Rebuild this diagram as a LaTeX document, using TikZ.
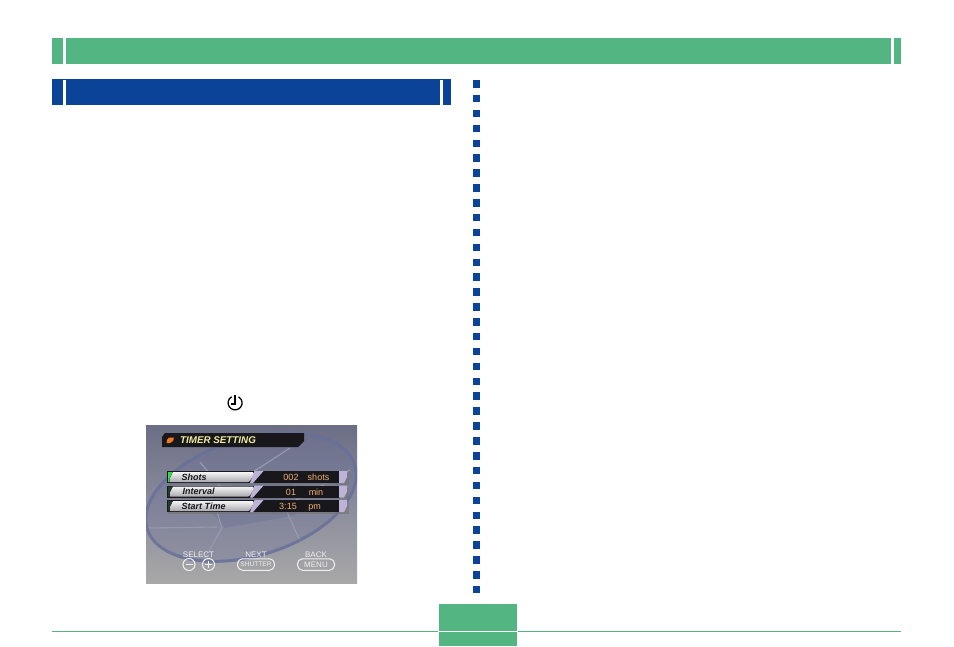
\documentclass[tikz,border=0pt]{standalone}
\usepackage{fontspec}
\setmainfont{Liberation Sans}
\definecolor{gr}{HTML}{52B582}
\definecolor{bl}{HTML}{0B4398}
\definecolor{ink}{HTML}{17171C}
\definecolor{lilac}{HTML}{BDB3D6}
\definecolor{amber}{HTML}{F0B070}
\definecolor{cream}{HTML}{F2EDA0}
\definecolor{scrtop}{HTML}{6C6E85}
\definecolor{scrmid}{HTML}{8A8B9C}
\definecolor{scrbot}{HTML}{A8A8A8}
\definecolor{ellfill}{HTML}{6A6F98}
\definecolor{ellcore}{HTML}{5F6690}
\definecolor{ellring}{HTML}{68709A}
\definecolor{bladec}{HTML}{989BB0}
\definecolor{dotor}{HTML}{F07A20}
\definecolor{cornera}{HTML}{33DD44}
\definecolor{cornerb}{HTML}{1F3F2C}
\definecolor{pillbot}{HTML}{A9A9AF}
\tikzset{
  x=1pt,y=-1pt,
  greenbar/.style={fill=gr,draw=none},
  bluebar/.style={fill=bl,draw=none},
  dotbox/.style={fill=bl,draw=none},
  blade/.style={draw=bladec,line width=1.1pt},
  pilltext/.style={font=\fontsize{9}{10}\selectfont\bfseries\itshape,text=ink,inner sep=0pt,anchor=base west},
  valtext/.style={font=\fontsize{9}{10}\selectfont,text=amber,inner sep=0pt,anchor=base},
  softtext/.style={font=\fontsize{8}{9}\selectfont,text=white!88!gray,inner sep=0pt},
  softline/.style={draw=white!88!gray,line width=1pt},
}
\begin{document}
\begin{tikzpicture}
\useasboundingbox (0,0) rectangle (954,646);
\fill[white] (0,0) rectangle (954,646);
% header bars
\path[greenbar] (52,38) rectangle (63,64);
\path[greenbar] (66,38) rectangle (891,64);
\path[greenbar] (894,38) rectangle (901,64);
\path[bluebar] (52,79) rectangle (451,105);
\fill[white] (63,80) rectangle (66,105);
\fill[white] (440,80) rectangle (443,105);
% dotted divider
\foreach \i in {0,...,34}{
  \path[dotbox] (473,{80+14.88*\i}) rectangle (480,{87.5+14.88*\i});
}
% footer
\path[greenbar] (52,631) rectangle (438,632.4);
\path[greenbar] (518,631) rectangle (901,632.4);
\path[greenbar] (439,604) rectangle (517,646);
\fill[white] (439,631) rectangle (517,632);
% clock icon
\draw[black,line width=1.3pt] (231.6,396.8) arc[start angle=-120,end angle=-420,radius=7];
\draw[black,line width=1.3pt] (235,395) -- (235,404) -- (230.5,404);
% screen
\begin{scope}
\clip (146,425) rectangle (357,583);
\shade[top color=scrtop,bottom color=scrbot,middle color=scrmid] (146,425) rectangle (357,583);
\begin{scope}
\path[clip,rotate around={17:(251,497)}] (251,497) ellipse [x radius=110,y radius=60];
\fill[ellfill,opacity=.3] (140,420) rectangle (360,590);
\fill[ellcore,opacity=.25] (210,510) -- (232,485) -- (292,470) -- (296,515) -- (225,528) -- cycle;
\draw[blade] (290,448) -- (253,472);
\draw[blade] (200,462) -- (220,486);
\draw[blade] (287,512) -- (305,552);
\draw[blade] (146,528) -- (217,527);
\draw[blade] (217,512) -- (222,528);
\draw[blade] (222,528) -- (198,570);
\draw[blade] (296,500) -- (350,470);
\end{scope}
\draw[rotate around={17:(251,497)},draw=ellring,opacity=.8,line width=3pt] (251,497) ellipse [x radius=108.5,y radius=58.5];
\end{scope}
% title strip
\fill[ink] (165,433) -- (304,433) -- (304,441) -- (298,447) -- (162,447) -- (162,437) -- cycle;
\fill[dotor] (169,437.5) -- (174,437.5) -- (173,441) -- (170,443) -- (166.5,443) -- (167,440) -- cycle;
\node[inner sep=0pt,anchor=west,text=cream,font=\fontsize{9.8}{10}\selectfont\bfseries\itshape] (title) at (180,440.4) {TIMER SETTING};
% rows
\foreach \y/\c/\name/\lab/\lx/\val/\vx/\unit/\ux in {
  471/cornera/shots/Shots/181.5/002/291/shots/318.5,
  485.5/cornerb/interval/Interval/182.5/01/291/min/316,
  500/cornerb/start/Start Time/181.5/3:15/288/pm/314.5}{
  \fill[black!55,opacity=.6] (168,\y+2) rectangle (349,\y+13.5);
  \fill[ink] (167,\y) rectangle (340,\y+12);
  \fill[\c] (168,\y+1) -- (172.5,\y+1) -- (169.5,\y+7) -- (169.5,\y+11) -- (168,\y+11) -- cycle;
  \shade[top color=white!92!gray,bottom color=pillbot,draw=none]
    (173,\y+1) -- (253,\y+1) -- (254,\y+3) -- (250,\y+10) -- (248,\y+11) -- (170,\y+11) -- (170,\y+7) -- cycle;
  \fill[lilac] (254.5,\y) -- (263.5,\y) -- (253,\y+12) -- (250,\y+12) -- cycle;
  \fill[lilac] (339,\y) -- (347,\y) -- (347,\y+6) -- (344,\y+12) -- (339,\y+12) -- cycle;
  \node[pilltext] (\name-label) at (\lx,\y+9.3) {\lab};
  \node[valtext] (\name-value) at (\vx,\y+9.8) {\val};
  \node[valtext] (\name-unit) at (\ux,\y+9.8) {\unit};
}
% soft keys
\node[softtext] (selectlab) at (198.5,554.5) {SELECT};
\draw[softline] (189,564.5) circle [radius=6];
\draw[softline] (185.5,564.5) -- (192.5,564.5);
\draw[softline] (208.5,564.5) circle [radius=6];
\draw[softline] (205,564.5) -- (212,564.5) (208.5,561) -- (208.5,568);
\node[softtext] (nextlab) at (256,554.5) {NEXT};
\node[softtext,rounded corners=5pt,draw=white!88!gray,line width=1pt,minimum width=37pt,minimum height=11.5pt,font=\fontsize{6.6}{7}\selectfont] (shutter) at (256,564.5) {SHUTTER};
\node[softtext] (backlab) at (316,554.5) {BACK};
\node[softtext,rounded corners=5pt,draw=white!88!gray,line width=1pt,minimum width=37pt,minimum height=11.5pt] (menu) at (316,564.5) {MENU};
\end{tikzpicture}
\end{document}
